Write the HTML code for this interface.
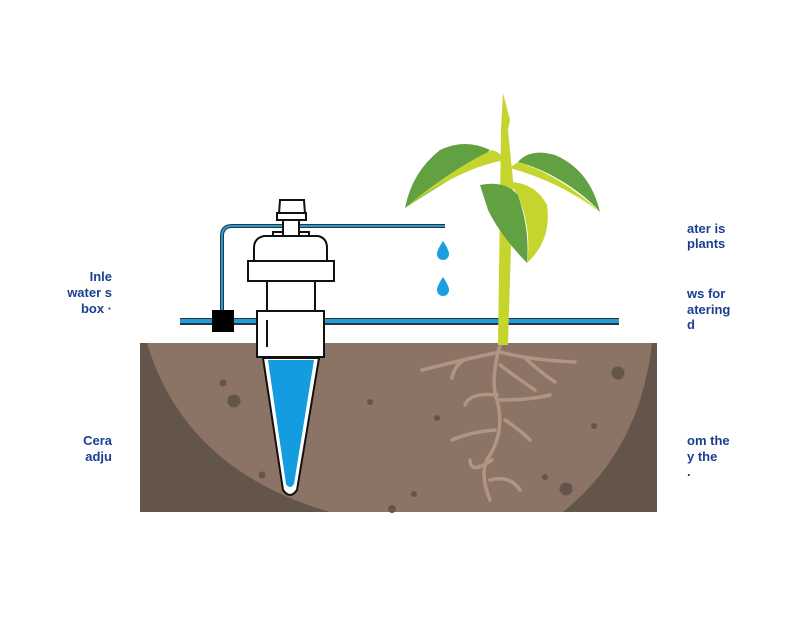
<!DOCTYPE html>
<html><head><style>html,body{margin:0;padding:0;background:#fff}svg{display:block}</style></head>
<body>
<svg width="800" height="640" viewBox="0 0 800 640" xmlns="http://www.w3.org/2000/svg" font-family="Liberation Sans, sans-serif">
<rect width="800" height="640" fill="#fff"/>
<!-- soil -->
<rect x="140" y="343" width="517" height="169" fill="#64554b"/>
<path d="M147,343 Q185,470 330,512 L563,512 Q640,450 652,343 Z" fill="#8b7465"/>
<g fill="#64554b">
<circle cx="223" cy="383" r="3.5"/><circle cx="234" cy="401" r="6.5"/><circle cx="209" cy="451" r="3.5"/>
<circle cx="262" cy="475" r="3.5"/><circle cx="370" cy="402" r="3"/><circle cx="437" cy="418" r="3"/>
<circle cx="618" cy="373" r="6.5"/><circle cx="594" cy="426" r="3"/><circle cx="545" cy="477" r="3"/>
<circle cx="566" cy="489" r="6.5"/><circle cx="414" cy="494" r="3"/><circle cx="392" cy="509" r="4"/>
</g>
<!-- roots -->
<g stroke="#b39383" stroke-width="3.5" fill="none" stroke-linecap="round">
<path d="M500,345 Q490,380 497,400 Q505,430 490,455 Q478,470 490,500"/>
<path d="M500,352 Q470,358 422,370 M470,358 Q455,362 452,378 M500,352 Q530,360 575,362 M525,358 Q540,372 555,382 M500,365 Q520,380 535,390"/>
<path d="M497,395 Q470,392 465,405 M500,400 Q530,400 550,395 M505,420 Q520,430 530,440 M495,430 Q470,432 452,440 M492,460 Q470,475 470,460 M490,480 Q510,475 520,490"/>
</g>
<!-- pipes -->
<path d="M445,226 L232,226 Q222,226 222,236 L222,320" stroke="#333" stroke-width="4" fill="none"/>
<path d="M445,226 L232,226 Q222,226 222,236 L222,320" stroke="#1a9ee0" stroke-width="2" fill="none"/>
<rect x="180" y="318" width="439" height="7" fill="#333"/>
<rect x="180" y="319" width="439" height="4" fill="#1a9ee0"/>
<rect x="212" y="310" width="22" height="22" fill="#000"/>
<!-- drops -->
<path d="M443,241 Q449,250 449,254 A6,6 0 0 1 437,254 Q437,250 443,241Z" fill="#1a9ee0"/>
<path d="M443,277 Q449,286 449,290 A6,6 0 0 1 437,290 Q437,286 443,277Z" fill="#1a9ee0"/>
<!-- device -->
<g stroke="#111" stroke-width="2" fill="#fff">
<path d="M263,358 L319,358 L297,490 Q290,500 283,490 Z"/>
<path d="M268,360 L314,360 L294,484 Q290,490 286,484 Z" fill="#149ce0" stroke="none"/>
<rect x="267" y="279" width="48" height="33"/>
<rect x="257" y="311" width="67" height="46"/>
<line x1="267" y1="320" x2="267" y2="347"/>
<rect x="273" y="232" width="36" height="5"/>
<path d="M254,262 L254,248 Q254,238 264,236 L318,236 Q327,238 327,248 L327,262 Z"/>
<rect x="248" y="261" width="86" height="20"/>
<rect x="283" y="218" width="16" height="18"/>
<path d="M280,200 L304,200 L305,214 L279,214 Z"/>
<rect x="277" y="213" width="29" height="7"/>
</g>
<!-- plant -->
<path d="M498,345 L501,130 L503,93 L510,120 L508,130 L513,180 L508,345 Z" fill="#c5d52e"/>
<path d="M405,208 Q412,172 440,150 Q465,138 490,150 Q480,160 470,168 Q440,185 405,208Z" fill="#62a142"/>
<path d="M405,208 Q450,170 492,150 Q500,152 505,160 Q460,168 405,208Z" fill="#c5d52e"/>
<path d="M600,212 Q590,170 555,155 Q530,148 518,162 Q540,168 560,180 Q585,195 600,212Z" fill="#62a142"/>
<path d="M600,212 Q560,182 510,168 L518,162 Q560,175 600,212Z" fill="#c5d52e"/>
<path d="M480,185 Q505,180 518,195 Q530,230 527,263 Q500,235 488,210 Z" fill="#62a142"/>
<path d="M508,182 Q535,182 547,205 Q552,240 527,263 Q532,230 518,195 Z" fill="#c5d52e"/>
<!-- text -->
<g fill="#1b3f8f" font-weight="bold" font-size="13">
<text x="112" y="281" text-anchor="end">Inle</text>
<text x="112" y="297" text-anchor="end">water s</text>
<text x="112" y="313" text-anchor="end">box ·</text>
<text x="112" y="445" text-anchor="end">Cera</text>
<text x="112" y="461" text-anchor="end">adju</text>
<text x="687" y="233">ater is</text>
<text x="687" y="248">plants</text>
<text x="687" y="298">ws for</text>
<text x="687" y="314">atering</text>
<text x="687" y="329">d</text>
<text x="687" y="445">om the</text>
<text x="687" y="461">y the</text>
<text x="687" y="476">.</text>
</g>
</svg>
</body></html>
